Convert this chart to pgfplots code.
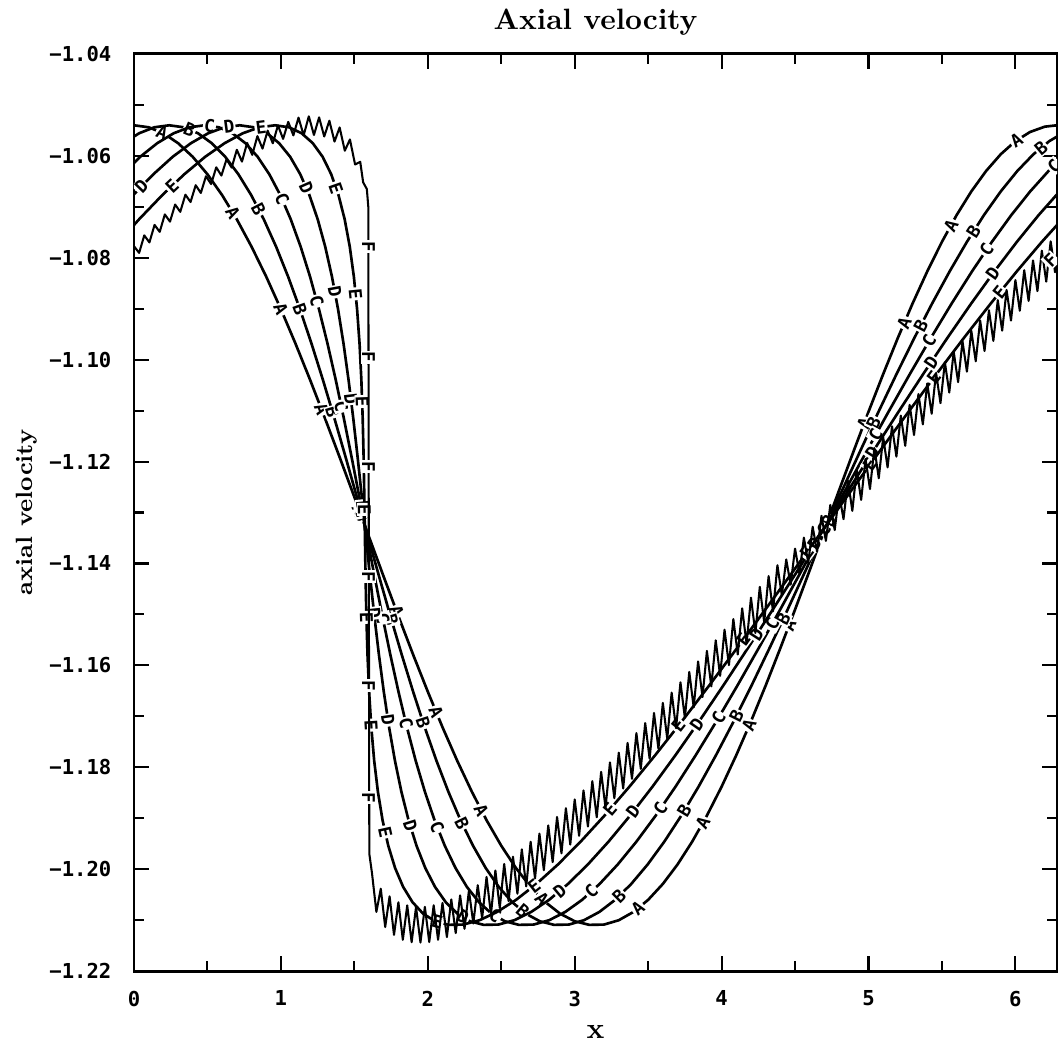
\documentclass[border=0pt]{standalone}
\usepackage{fontspec}
\usepackage{pgfplots}
\pgfplotsset{compat=1.18}
\usetikzlibrary{decorations.markings}
\newfontfamily\tickfont{DejaVu Sans Mono}
\newcommand\labfont{\tickfont\bfseries\fontsize{6}{7}\selectfont}
\tikzset{clab/.style n args={3}{postaction={decorate},
  decoration={markings, mark=between positions #1 and 1 step #2 with
  {\node[transform shape, fill=white, inner sep=0.4pt, font=\labfont]{#3};}}}}
\tikzset{flab/.style={fill=white, inner sep=0.4pt, font=\labfont}}
\begin{document}
\begin{tikzpicture}
\begin{axis}[
 name=ax,
 scale only axis, width=313.9pt, height=311.9pt,
 xmin=0, xmax=6.2832, ymin=-1.22, ymax=-1.04,
 xtick={0,1,2,3,4,5,6}, xticklabels={0,1,2,3,4,5,6},
 ytick={-1.22,-1.2,-1.18,-1.16,-1.14,-1.12,-1.1,-1.08,-1.06,-1.04},
 yticklabels={−1.22,−1.20,−1.18,−1.16,−1.14,−1.12,−1.10,−1.08,−1.06,−1.04},
 minor x tick num=1, minor y tick num=1,
 major tick length=5.1pt, minor tick length=3.4pt,
 tick style={line width=0.7pt, black},
 axis line style={line width=1pt},
 ticklabel style={font=\tickfont\bfseries\fontsize{7}{8}\selectfont, inner sep=0pt},
 yticklabel style={anchor=east, xshift=-7.5pt},
 xticklabel style={anchor=north, yshift=-6.5pt},
 every axis title shift=0pt,
 title={Axial velocity},
 title style={at={(axis description cs:0.5,1.0263)}, anchor=base, inner sep=0pt, font=\bfseries},
 xlabel={x},
 xlabel style={at={(axis description cs:0.5,-0.0731)}, anchor=base, inner sep=0pt, font=\bfseries},
 ylabel={axial velocity},
 ylabel style={at={(axis description cs:-0.1278,0.5)}, anchor=north, inner sep=0pt, font=\bfseries\fontsize{8}{9}\selectfont},
 every axis plot/.append style={black, line width=0.9pt, line join=round},
]
% A
\addplot[clab={10pt}{36.7pt}{A}] coordinates {
(0,-1.05400) (0.1,-1.05439) (0.2,-1.05556) (0.3,-1.05751) (0.4,-1.06019) (0.5,-1.06361) (0.6,-1.06771) (0.7,-1.07246) (0.8,-1.07781) (0.9,-1.08370) (1.0,-1.09009) (1.1,-1.09689) (1.2,-1.10405) (1.3,-1.11150) (1.4,-1.11915) (1.5,-1.12695) (1.6,-1.13479) (1.7,-1.14261) (1.8,-1.15034) (1.9,-1.15788) (2.0,-1.16516) (2.1,-1.17213) (2.2,-1.17870) (2.3,-1.18480) (2.4,-1.19039) (2.5,-1.19539) (2.6,-1.19977) (2.7,-1.20347) (2.8,-1.20646) (2.9,-1.20872) (3.0,-1.21022) (3.1,-1.21093) (3.2,-1.21087) (3.3,-1.21002) (3.4,-1.20839) (3.5,-1.20602) (3.6,-1.20290) (3.7,-1.19908) (3.8,-1.19459) (3.9,-1.18948) (4.0,-1.18381) (4.1,-1.17762) (4.2,-1.17099) (4.3,-1.16396) (4.4,-1.15662) (4.5,-1.14905) (4.6,-1.14131) (4.7,-1.13347) (4.8,-1.12563) (4.9,-1.11786) (5.0,-1.11023) (5.1,-1.10283) (5.2,-1.09572) (5.3,-1.08898) (5.4,-1.08268) (5.5,-1.07687) (5.6,-1.07162) (5.7,-1.06698) (5.8,-1.06299) (5.9,-1.05969) (6.0,-1.05712) (6.1,-1.05531) (6.2,-1.05427) (6.2832,-1.05400)
};
% B
\addplot[clab={24pt}{36.7pt}{B}] coordinates {
(-0.0707,-1.05751) (0.0352,-1.05556) (0.1388,-1.05439) (0.24,-1.05400) (0.3388,-1.05439) (0.4352,-1.05556) (0.5293,-1.05751) (0.6211,-1.06019) (0.7106,-1.06361) (0.7981,-1.06771) (0.8836,-1.07246) (0.9672,-1.07781) (1.0492,-1.08370) (1.1297,-1.09009) (1.2089,-1.09689) (1.2870,-1.10405) (1.3642,-1.11150) (1.4408,-1.11915) (1.5170,-1.12695) (1.5930,-1.13479) (1.6691,-1.14261) (1.7455,-1.15034) (1.8224,-1.15788) (1.9001,-1.16516) (1.9788,-1.17213) (2.0588,-1.17870) (2.1401,-1.18480) (2.2230,-1.19039) (2.3077,-1.19539) (2.3943,-1.19977) (2.4830,-1.20347) (2.5739,-1.20646) (2.6670,-1.20872) (2.7624,-1.21022) (2.8602,-1.21093) (2.9604,-1.21087) (3.0630,-1.21002) (3.1680,-1.20839) (3.2752,-1.20602) (3.3848,-1.20290) (3.4965,-1.19908) (3.6102,-1.19459) (3.7258,-1.18948) (3.8431,-1.18381) (3.9620,-1.17762) (4.0823,-1.17099) (4.2038,-1.16396) (4.3262,-1.15662) (4.4494,-1.14905) (4.5731,-1.14131) (4.6970,-1.13347) (4.8210,-1.12563) (4.9448,-1.11786) (5.0681,-1.11023) (5.1907,-1.10283) (5.3124,-1.09572) (5.4331,-1.08898) (5.5523,-1.08268) (5.6701,-1.07687) (5.7861,-1.07162) (5.9003,-1.06698) (6.0125,-1.06299) (6.1226,-1.05969) (6.2304,-1.05712) (6.3360,-1.05531)
};
% C
\addplot[clab={35pt}{36.7pt}{C}] coordinates {
(-0.0788,-1.06361) (0.0421,-1.06019) (0.1585,-1.05751) (0.2704,-1.05556) (0.3776,-1.05439) (0.48,-1.05400) (0.5776,-1.05439) (0.6704,-1.05556) (0.7585,-1.05751) (0.8421,-1.06019) (0.9212,-1.06361) (0.9961,-1.06771) (1.0671,-1.07246) (1.1344,-1.07781) (1.1984,-1.08370) (1.2593,-1.09009) (1.3177,-1.09689) (1.3740,-1.10405) (1.4284,-1.11150) (1.4816,-1.11915) (1.5339,-1.12695) (1.5860,-1.13479) (1.6382,-1.14261) (1.6909,-1.15034) (1.7448,-1.15788) (1.8003,-1.16516) (1.8577,-1.17213) (1.9175,-1.17870) (1.9802,-1.18480) (2.0460,-1.19039) (2.1155,-1.19539) (2.1887,-1.19977) (2.2660,-1.20347) (2.3477,-1.20646) (2.4339,-1.20872) (2.5248,-1.21022) (2.6204,-1.21093) (2.7208,-1.21087) (2.8260,-1.21002) (2.9359,-1.20839) (3.0505,-1.20602) (3.1695,-1.20290) (3.2929,-1.19908) (3.4203,-1.19459) (3.5516,-1.18948) (3.6863,-1.18381) (3.8241,-1.17762) (3.9647,-1.17099) (4.1076,-1.16396) (4.2525,-1.15662) (4.3988,-1.14905) (4.5461,-1.14131) (4.6940,-1.13347) (4.8420,-1.12563) (4.9895,-1.11786) (5.1362,-1.11023) (5.2814,-1.10283) (5.4249,-1.09572) (5.5661,-1.08898) (5.7047,-1.08268) (5.8402,-1.07687) (5.9723,-1.07162) (6.1007,-1.06698) (6.2250,-1.06299) (6.3452,-1.05969)
};
% D
\addplot[clab={4pt}{36.7pt}{D}] coordinates {
(-0.0058,-1.06771) (0.1319,-1.06361) (0.2632,-1.06019) (0.3878,-1.05751) (0.5057,-1.05556) (0.6164,-1.05439) (0.72,-1.05400) (0.8164,-1.05439) (0.9057,-1.05556) (0.9878,-1.05751) (1.0632,-1.06019) (1.1319,-1.06361) (1.1942,-1.06771) (1.2507,-1.07246) (1.3016,-1.07781) (1.3476,-1.08370) (1.3890,-1.09009) (1.4266,-1.09689) (1.4609,-1.10405) (1.4926,-1.11150) (1.5224,-1.11915) (1.5509,-1.12695) (1.5790,-1.13479) (1.6073,-1.14261) (1.6364,-1.15034) (1.6672,-1.15788) (1.7004,-1.16516) (1.7365,-1.17213) (1.7763,-1.17870) (1.8203,-1.18480) (1.8691,-1.19039) (1.9232,-1.19539) (1.9830,-1.19977) (2.0490,-1.20347) (2.1216,-1.20646) (2.2009,-1.20872) (2.2872,-1.21022) (2.3806,-1.21093) (2.4812,-1.21087) (2.5890,-1.21002) (2.7039,-1.20839) (2.8257,-1.20602) (2.9543,-1.20290) (3.0894,-1.19908) (3.2305,-1.19459) (3.3774,-1.18948) (3.5294,-1.18381) (3.6861,-1.17762) (3.8470,-1.17099) (4.0114,-1.16396) (4.1787,-1.15662) (4.3482,-1.14905) (4.5192,-1.14131) (4.6911,-1.13347) (4.8630,-1.12563) (5.0343,-1.11786) (5.2043,-1.11023) (5.3722,-1.10283) (5.5373,-1.09572) (5.6992,-1.08898) (5.8570,-1.08268) (6.0103,-1.07687) (6.1584,-1.07162) (6.3010,-1.06698)
};
% E
\addplot[clab={5pt}{36.7pt}{E}] coordinates {
(-0.3033,-1.08370) (-0.1312,-1.07781) (0.0342,-1.07246) (0.1923,-1.06771) (0.3425,-1.06361) (0.4843,-1.06019) (0.6171,-1.05751) (0.7409,-1.05556) (0.8552,-1.05439) (0.96,-1.05400) (1.0552,-1.05439) (1.1409,-1.05556) (1.2171,-1.05751) (1.2843,-1.06019) (1.3425,-1.06361) (1.3923,-1.06771) (1.4342,-1.07246) (1.4688,-1.07781) (1.4967,-1.08370) (1.5187,-1.09009) (1.5355,-1.09689) (1.5479,-1.10405) (1.5568,-1.11150) (1.5632,-1.11915) (1.5679,-1.12695) (1.5720,-1.13479) (1.5764,-1.14261) (1.5819,-1.15034) (1.5896,-1.15788) (1.6005,-1.16516) (1.6154,-1.17213) (1.6350,-1.17870) (1.6604,-1.18480) (1.6921,-1.19039) (1.7309,-1.19539) (1.7774,-1.19977) (1.8321,-1.20347) (1.8955,-1.20646) (1.9678,-1.20872) (2.0496,-1.21022) (2.1409,-1.21093) (2.2416,-1.21087) (2.3520,-1.21002) (2.4719,-1.20839) (2.6010,-1.20602) (2.7391,-1.20290) (2.8858,-1.19908) (3.0406,-1.19459) (3.2031,-1.18948) (3.3725,-1.18381) (3.5482,-1.17762) (3.7293,-1.17099) (3.9152,-1.16396) (4.1050,-1.15662) (4.2976,-1.14905) (4.4923,-1.14131) (4.6881,-1.13347) (4.8840,-1.12563) (5.0790,-1.11786) (5.2724,-1.11023) (5.4629,-1.10283) (5.6498,-1.09572) (5.8322,-1.08898) (6.0093,-1.08268) (6.1804,-1.07687) (6.3446,-1.07162)
};
% F
\addplot[line width=0.7pt] coordinates {
(0.000,-1.07773) (0.035,-1.07904) (0.070,-1.07561) (0.105,-1.07698) (0.140,-1.07355) (0.175,-1.07492) (0.210,-1.07149) (0.245,-1.07291) (0.280,-1.06955) (0.315,-1.07099) (0.350,-1.06762) (0.385,-1.06906) (0.420,-1.06576) (0.455,-1.06728) (0.490,-1.06400) (0.525,-1.06552) (0.560,-1.06225) (0.595,-1.06387) (0.630,-1.06068) (0.665,-1.06230) (0.700,-1.05881) (0.735,-1.06113) (0.770,-1.05746) (0.805,-1.05980) (0.840,-1.05613) (0.875,-1.05858) (0.910,-1.05505) (0.945,-1.05753) (0.980,-1.05402) (1.015,-1.05667) (1.050,-1.05333) (1.085,-1.05598) (1.120,-1.05249) (1.155,-1.05597) (1.190,-1.05224) (1.225,-1.05590) (1.260,-1.05245) (1.295,-1.05620) (1.330,-1.05310) (1.365,-1.05720) (1.400,-1.05442) (1.435,-1.05899) (1.470,-1.05678) (1.505,-1.06169) (1.540,-1.06117) (1.560,-1.06520) (1.585,-1.06650) (1.595,-1.07000) (1.598,-1.13000) (1.602,-1.19700)
(1.62,-1.20074) (1.65,-1.20839) (1.68,-1.20383) (1.71,-1.21136) (1.74,-1.20532) (1.77,-1.21290) (1.80,-1.20649) (1.83,-1.21386) (1.86,-1.20710) (1.89,-1.21434) (1.92,-1.20742) (1.95,-1.21440) (1.98,-1.20738) (2.01,-1.21431) (2.04,-1.20708) (2.07,-1.21386) (2.10,-1.20663) (2.13,-1.21332) (2.16,-1.20593) (2.19,-1.21254) (2.22,-1.20515) (2.25,-1.21171) (2.28,-1.20419) (2.31,-1.21067) (2.34,-1.20315) (2.37,-1.20963) (2.40,-1.20152) (2.43,-1.20888) (2.46,-1.20025) (2.49,-1.20761) (2.52,-1.19898) (2.55,-1.20627) (2.58,-1.19755) (2.61,-1.20482) (2.64,-1.19610) (2.67,-1.20338) (2.70,-1.19461) (2.73,-1.20181) (2.76,-1.19301) (2.79,-1.20021) (2.82,-1.19141) (2.85,-1.19861) (2.88,-1.18975) (2.91,-1.19689) (2.94,-1.18803) (2.97,-1.19517) (3.00,-1.18631) (3.03,-1.19345) (3.06,-1.18454) (3.09,-1.19163) (3.12,-1.18272) (3.15,-1.18980) (3.18,-1.18089) (3.21,-1.18798) (3.24,-1.17904) (3.27,-1.18608) (3.30,-1.17713) (3.33,-1.18417) (3.36,-1.17522) (3.39,-1.18226) (3.42,-1.17330) (3.45,-1.18031) (3.48,-1.17132) (3.51,-1.17833) (3.54,-1.16935) (3.57,-1.17636) (3.60,-1.16737) (3.63,-1.17437) (3.66,-1.16535) (3.69,-1.17233) (3.72,-1.16332) (3.75,-1.17030) (3.78,-1.16128) (3.81,-1.16826) (3.84,-1.15923) (3.87,-1.16620) (3.90,-1.15716) (3.93,-1.16412) (3.96,-1.15508) (3.99,-1.16205) (4.02,-1.15301) (4.05,-1.15996) (4.08,-1.15091) (4.11,-1.15786) (4.14,-1.14880) (4.17,-1.15575) (4.20,-1.14670) (4.23,-1.15365) (4.26,-1.14459) (4.29,-1.15153) (4.32,-1.14246) (4.35,-1.14940) (4.38,-1.14034) (4.41,-1.14627) (4.44,-1.13921) (4.47,-1.14415) (4.50,-1.13708) (4.53,-1.14201) (4.56,-1.13493) (4.59,-1.13986) (4.62,-1.13279) (4.65,-1.13772) (4.68,-1.13065) (4.71,-1.13558) (4.74,-1.12851) (4.77,-1.13344) (4.80,-1.12637) (4.83,-1.13130) (4.86,-1.12373) (4.89,-1.12967) (4.92,-1.12160) (4.95,-1.12753) (4.98,-1.11947) (5.01,-1.12540) (5.04,-1.11734) (5.07,-1.12327) (5.10,-1.11521) (5.13,-1.12114) (5.16,-1.11308) (5.19,-1.11903) (5.22,-1.11097) (5.25,-1.11691) (5.28,-1.10886) (5.31,-1.11480) (5.34,-1.10674) (5.37,-1.11270) (5.40,-1.10466) (5.43,-1.11062) (5.46,-1.10258) (5.49,-1.10854) (5.52,-1.10050) (5.55,-1.10645) (5.58,-1.09843) (5.61,-1.10441) (5.64,-1.09639) (5.67,-1.10236) (5.70,-1.09434) (5.73,-1.10032) (5.76,-1.09230) (5.79,-1.09830) (5.82,-1.09030) (5.85,-1.09631) (5.88,-1.08831) (5.91,-1.09431) (5.94,-1.08632) (5.97,-1.09233) (6.00,-1.08437) (6.03,-1.09040) (6.06,-1.08244) (6.09,-1.08848) (6.12,-1.08052) (6.15,-1.08655) (6.18,-1.07861) (6.21,-1.08469) (6.24,-1.07677) (6.27,-1.08284) (6.30,-1.07492)
};
\node[flab, rotate=-90] at (axis cs:1.597,-1.0778) {F};
\node[flab, rotate=-90] at (axis cs:1.597,-1.0995) {F};
\node[flab, rotate=-90] at (axis cs:1.597,-1.1210) {F};
\node[flab, rotate=-90] at (axis cs:1.597,-1.1426) {F};
\node[flab, rotate=-90] at (axis cs:1.597,-1.1640) {F};
\node[flab, rotate=-90] at (axis cs:1.597,-1.1860) {F};
\node[flab, rotate=45] at (axis cs:6.24,-1.0805) {F};
\end{axis}
\path ([xshift=-45.57pt,yshift=-24.49pt]ax.south west) rectangle ([xshift=0.68pt,yshift=18.36pt]ax.north east);
\end{tikzpicture}
\end{document}
